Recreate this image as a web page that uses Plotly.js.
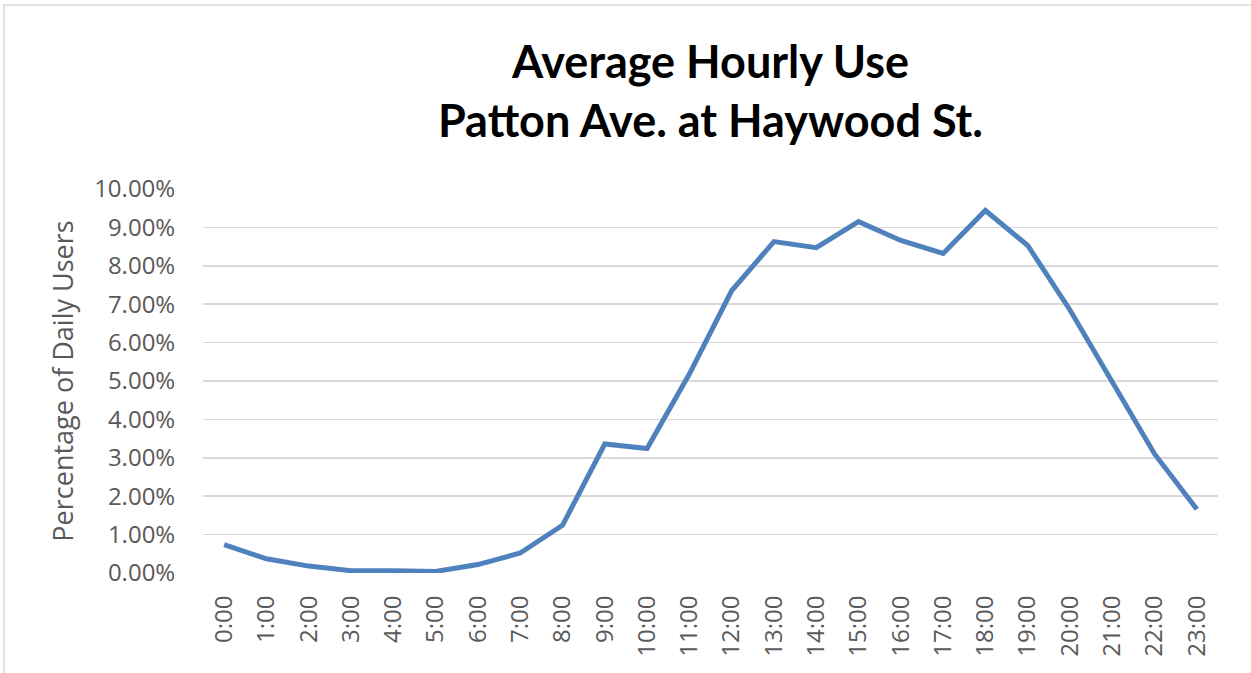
<!DOCTYPE html>
<html>
<head>
<meta charset="utf-8">
<script src="https://cdn.plot.ly/plotly-3.0.1.min.js"></script>
<style>
html,body{margin:0;padding:0;background:#fff;}
#chart{width:1251px;height:673px;}
</style>
</head>
<body>
<div id="chart"></div>
<script>
var hours = ["0:00","1:00","2:00","3:00","4:00","5:00","6:00","7:00","8:00","9:00","10:00","11:00","12:00","13:00","14:00","15:00","16:00","17:00","18:00","19:00","20:00","21:00","22:00","23:00"];
var share = [0.0074,0.0037,0.0018,0.0006,0.0006,0.0004,0.0022,0.0052,0.0124,0.0336,0.0324,0.0518,0.0735,0.0863,0.0847,0.0915,0.0866,0.0832,0.0944,0.0853,0.0685,0.0495,0.0310,0.0166];
var yTicks = [0,0.01,0.02,0.03,0.04,0.05,0.06,0.07,0.08,0.09,0.10];

var W = 1251, H = 673;
var mL = 203, mR = 33, mT = 189, mB = 100;
var pw = W - mL - mR, ph = H - mT - mB;

var trace = {
  x: hours.map(function(_, i){ return i; }),
  y: share,
  type: 'scatter',
  mode: 'lines',
  line: {color: '#4F81BD', width: 5},
  hoverinfo: 'skip'
};

var layout = {
  width: W, height: H,
  margin: {l: mL, r: mR, t: mT, b: mB, pad: 0},
  paper_bgcolor: '#ffffff',
  plot_bgcolor: '#ffffff',
  showlegend: false,
  font: {family: 'Open Sans, sans-serif', color: '#595959'},
  title: {
    text: 'Average Hourly Use<br>Patton Ave. at Haywood St.',
    font: {family: 'Lato, sans-serif', size: 45, color: '#000000', weight: 'bold'},
    x: 0.5, xanchor: 'center', xref: 'paper',
    y: 0.884, yanchor: 'middle', yref: 'container'
  },
  xaxis: {
    range: [-0.5, 23.5],
    tickmode: 'array',
    tickvals: hours.map(function(_, i){ return i; }),
    ticktext: hours,
    tickangle: -90,
    tickfont: {family: 'Open Sans, sans-serif', size: 24, color: '#595959'},
    showgrid: false,
    zeroline: false,
    showline: false,
    ticks: 'outside',
    ticklen: 12,
    tickcolor: 'rgba(0,0,0,0)',
    fixedrange: true
  },
  yaxis: {
    range: [0, 0.1],
    tickmode: 'array',
    tickvals: yTicks,
    ticktext: yTicks.map(function(v){ return (v*100).toFixed(2) + '%'; }),
    tickfont: {family: 'Open Sans, sans-serif', size: 24, color: '#595959'},
    showgrid: true,
    gridcolor: '#d9d9d9',
    gridwidth: 1.5,
    zeroline: false,
    showline: false,
    ticks: 'outside',
    ticklen: 22,
    tickcolor: 'rgba(0,0,0,0)',
    title: {
      text: 'Percentage of Daily Users',
      font: {family: 'Open Sans, sans-serif', size: 27, color: '#595959'},
      standoff: 12
    },
    fixedrange: true
  },
  shapes: [
    {type: 'rect', xref: 'paper', yref: 'paper',
     x0: (4 - mL) / pw, x1: (W + 5 - mL) / pw,
     y0: -(mB + 10) / ph, y1: (H - 5 - mB) / ph,
     line: {color: '#d9d9d9', width: 1.5}, fillcolor: 'rgba(0,0,0,0)'}
  ]
};

Plotly.newPlot('chart', [trace], layout, {displayModeBar: false, staticPlot: true});
</script>
</body>
</html>
